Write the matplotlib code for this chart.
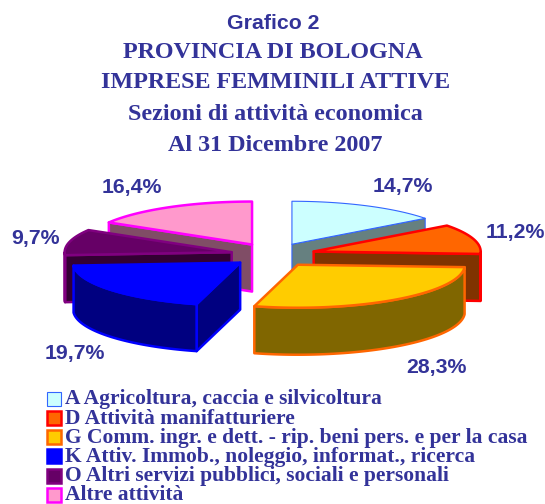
import numpy as np
import matplotlib
matplotlib.use("Agg")
import matplotlib.pyplot as plt
from matplotlib.patches import Polygon, Rectangle

title_lines = ["PROVINCIA DI BOLOGNA", "IMPRESE FEMMINILI ATTIVE",
               "Sezioni di attività economica", "Al 31 Dicembre 2007"]
legend_labels = ["A Agricoltura, caccia e silvicoltura",
                 "D Attività manifatturiere",
                 "G Comm. ingr. e dett. - rip. beni pers. e per la casa",
                 "K Attiv. Immob., noleggio, informat., ricerca",
                 "O Altri servizi pubblici, sociali e personali",
                 "Altre attività"]
values = [14.7, 11.2, 28.3, 19.7, 9.7, 16.4]
pct_labels = ["14,7%", "11,2%", "28,3%", "19,7%", "9,7%", "16,4%"]

top_colors = ["#CCFFFF", "#FF6600", "#FFCC00", "#0000FF", "#660066", "#FF99CC"]
edge_colors = ["#3366FF", "#FF0000", "#FF6600", "#0000FF", "#800080", "#FF00FF"]
wall_colors = ["#668080", "#803300", "#806600", "#000080", "#330033", "#804D66"]
edge_widths = [0.8, 1.8, 1.8, 1.8, 1.8, 1.8]

TEXT = "#333399"
CX, CY = 273, 255      # pie centre, in pixels
RX, RY = 167, 43       # ellipse of the top face
DEPTH = 47
EXPLODE_X, EXPLODE_Y = 42.5, 12
draw_order = [5, 0, 4, 1, 3, 2]   # back to front
label_pos = [(403, 192), (515, 238), (436, 373), (74.5, 359), (35, 244), (132, 193)]
title_pos = [(272.5, 58), (275.5, 88), (275.5, 120), (275.5, 151)]
marker_y = [399, 417.5, 436.5, 455.5, 475.5, 494.5]
legend_baseline = [404, 423.5, 443, 462, 480.5, 500]

fig = plt.figure(figsize=(5.45, 5.04), dpi=100)
ax = fig.add_axes([0, 0, 1, 1])
ax.set_xlim(0, 545)
ax.set_ylim(504, 0)
ax.axis("off")


def rim(cx, cy, a0, a1, n=60):
    # angles clockwise from 12 o'clock, in degrees
    t = np.radians(np.linspace(a0, a1, n))
    return np.column_stack([cx + RX * np.sin(t), cy - RY * np.cos(t)])


def draw_slice(i, a0, a1):
    mid = np.radians((a0 + a1) / 2)
    cx = CX + EXPLODE_X * np.sin(mid)
    cy = CY - EXPLODE_Y * np.cos(mid)
    apex = np.array([cx, cy])
    down = np.array([0, DEPTH])
    style = dict(facecolor=wall_colors[i], edgecolor=edge_colors[i],
                 linewidth=edge_widths[i], joinstyle="round")

    # cut faces turned towards the viewer
    if np.sin(np.radians(a0)) < -1e-6:
        p = rim(cx, cy, a0, a0, 1)[0]
        ax.add_patch(Polygon([apex, p, p + down, apex + down], **style))
    if np.sin(np.radians(a1)) > 1e-6:
        p = rim(cx, cy, a1, a1, 1)[0]
        ax.add_patch(Polygon([apex, p, p + down, apex + down], **style))

    # front part of the outer rim
    lo, hi = max(a0, 90), min(a1, 270)
    if hi > lo:
        arc = rim(cx, cy, lo, hi)
        ax.add_patch(Polygon(np.vstack([arc, arc[::-1] + down]), **style))

    top = np.vstack([apex, rim(cx, cy, a0, a1)])
    ax.add_patch(Polygon(top, facecolor=top_colors[i], edgecolor=edge_colors[i],
                         linewidth=edge_widths[i], joinstyle="round"))


ends = np.cumsum(values) / sum(values) * 360
starts = np.concatenate([[0], ends[:-1]])
for i in draw_order:
    draw_slice(i, starts[i], ends[i])

ax.text(273, 29, "Grafico 2", family="Liberation Sans", weight="bold",
        fontsize=15.3, color=TEXT, ha="center", va="baseline")
for line, (x, y) in zip(title_lines, title_pos):
    ax.text(x, y, line, family="Liberation Serif", weight="bold",
            fontsize=17.4, color=TEXT, ha="center", va="baseline")

for lab, (x, y) in zip(pct_labels, label_pos):
    ax.text(x, y, lab, family="Liberation Sans", weight="bold",
            fontsize=15.3, color=TEXT, ha="center", va="baseline")

for i, lab in enumerate(legend_labels):
    ax.add_patch(Rectangle((46.5, marker_y[i] - 7), 14, 14, facecolor=top_colors[i],
                           edgecolor=edge_colors[i],
                           linewidth=edge_widths[i]))
    ax.text(65, legend_baseline[i], lab, family="Liberation Serif", weight="bold",
            fontsize=15.47, color=TEXT, ha="left", va="baseline")

fig.savefig("out.png", dpi=100)
